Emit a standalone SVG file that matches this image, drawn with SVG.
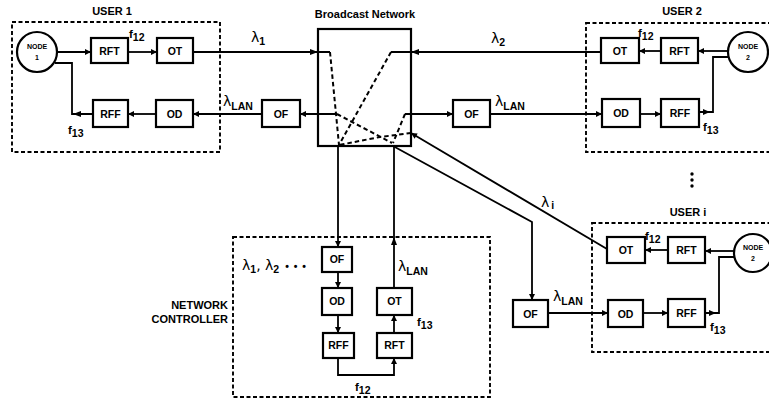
<svg xmlns="http://www.w3.org/2000/svg" width="769" height="410" viewBox="0 0 769 410">
<defs>
<style>
.bx{fill:#fff;stroke:#000;stroke-width:2.2}
.grp{fill:none;stroke:#000;stroke-width:1.9;stroke-dasharray:4 2.5}
.ln{fill:none;stroke:#000;stroke-width:1.8}
.dl{fill:none;stroke:#000;stroke-width:2;stroke-dasharray:4.5 3}
.t{font-family:"Liberation Sans",Arial,sans-serif;font-weight:bold;font-size:10.5px;fill:#000;text-anchor:middle}
.h{font-family:"Liberation Sans",Arial,sans-serif;font-weight:bold;font-size:11px;fill:#000}
.nd{font-family:"Liberation Sans",Arial,sans-serif;font-weight:bold;font-size:7px;fill:#000;text-anchor:middle}
.lam{font-family:"DejaVu Sans","Liberation Sans",sans-serif;font-size:14px;fill:#000}
.sub{font-family:"Liberation Sans",Arial,sans-serif;font-weight:bold;font-size:10.5px}
.f{font-family:"Liberation Sans",Arial,sans-serif;font-weight:bold;font-size:11.5px;fill:#000}
.ah{fill:#000}
</style>
<marker id="a" viewBox="0 0 10 10" refX="10" refY="5" markerWidth="7" markerHeight="6" markerUnits="userSpaceOnUse" orient="auto"><path d="M0,0 L10,5 L0,10 z" fill="#000"/></marker>
</defs>

<g id="user1">
<rect class="grp" x="12" y="22" width="208" height="130"/>
<text class="h" x="112" y="15" text-anchor="middle">USER 1</text>
</g>
<g id="user2">
<rect class="grp" x="586" y="23" width="200" height="129"/>
<text class="h" x="682" y="15" text-anchor="middle">USER 2</text>
</g>
<g id="useri">
<rect class="grp" x="592" y="223" width="200" height="129"/>
<text class="h" x="688" y="216" text-anchor="middle">USER i</text>
</g>
<g id="netctrl">
<rect class="grp" x="233" y="237" width="257" height="160"/>
<text class="h" x="228" y="309" text-anchor="end">NETWORK</text>
<text class="h" x="228" y="323" text-anchor="end">CONTROLLER</text>
</g>

<g id="connectors">
<line class="ln" x1="57" y1="52" x2="91" y2="52" marker-end="url(#a)"/>
<line class="ln" x1="128" y1="52" x2="157" y2="52" marker-end="url(#a)"/>
<line class="ln" x1="193" y1="52" x2="330" y2="52"/>
<polygon class="ah" points="318,52 310,49 310,55"/>
<line class="ln" x1="337" y1="114" x2="300" y2="114" marker-end="url(#a)"/>
<line class="ln" x1="262" y1="114" x2="193" y2="114" marker-end="url(#a)"/>
<line class="ln" x1="156" y1="114" x2="128" y2="114" marker-end="url(#a)"/>
<polyline class="ln" points="93,114 72,114 72,63 55,63"/>
<polygon class="ah" points="73,114 81,111 81,117"/>
<line class="ln" x1="601" y1="52" x2="391" y2="52"/>
<polygon class="ah" points="411,52 419,49 419,55"/>
<line class="ln" x1="729" y1="51" x2="698" y2="51" marker-end="url(#a)"/>
<line class="ln" x1="661" y1="51" x2="639" y2="51" marker-end="url(#a)"/>
<line class="ln" x1="405" y1="114" x2="453" y2="114" marker-end="url(#a)"/>
<line class="ln" x1="490" y1="114" x2="602" y2="114" marker-end="url(#a)"/>
<line class="ln" x1="640" y1="114" x2="661" y2="114" marker-end="url(#a)"/>
<polyline class="ln" points="699,112 713,112 713,57 730,57"/>
<polygon class="ah" points="710,112 703,109 703,115"/>
<line class="ln" x1="607" y1="249" x2="411" y2="133" marker-end="url(#a)"/>
<polyline class="ln" points="393,146 532,222 532,300" marker-end="url(#a)"/>
<line class="ln" x1="548" y1="313" x2="608" y2="313" marker-end="url(#a)"/>
<line class="ln" x1="643" y1="313" x2="668" y2="313" marker-end="url(#a)"/>
<line class="ln" x1="735" y1="251" x2="705" y2="251" marker-end="url(#a)"/>
<line class="ln" x1="668" y1="250" x2="645" y2="250" marker-end="url(#a)"/>
<polyline class="ln" points="705,313 719,313 719,257 736,257"/>
<polygon class="ah" points="716,313 709,310 709,316"/>
<line class="ln" x1="338" y1="146" x2="338" y2="247" marker-end="url(#a)"/>
<line class="ln" x1="338" y1="272" x2="338" y2="288" marker-end="url(#a)"/>
<line class="ln" x1="338" y1="315" x2="338" y2="333" marker-end="url(#a)"/>
<polyline class="ln" points="338,358 338,375 394,375 394,358" marker-end="url(#a)"/>
<line class="ln" x1="394" y1="333" x2="394" y2="315" marker-end="url(#a)"/>
<line class="ln" x1="394" y1="288" x2="394" y2="146"/>
<polygon class="ah" points="394,237 391,245 397,245"/>
<polyline class="dl" points="330,52 339,145"/>
<polyline class="dl" points="391,52 339,145"/>
<polyline class="dl" points="337,114 392,143"/>
<polyline class="dl" points="405,114 393,143"/>
<polyline class="dl" points="411,133 380,137 339,145"/>
</g>

<g id="broadcast">
<rect fill="none" stroke="#000" stroke-width="2.2" x="318" y="29" width="93" height="117"/>
<text class="h" x="365" y="18" text-anchor="middle">Broadcast Network</text>
</g>

<g id="node1"><circle class="bx" cx="37" cy="52" r="20"/><text class="nd" x="37" y="49">NODE</text><text class="nd" x="37" y="60">1</text></g>
<g id="u1-rft"><rect class="bx" x="91" y="38" width="37" height="25"/><text class="t" x="109.5" y="55">RFT</text></g>
<g id="u1-ot"><rect class="bx" x="157" y="38" width="36" height="25"/><text class="t" x="175" y="55">OT</text></g>
<g id="u1-rff"><rect class="bx" x="93" y="100" width="35" height="27"/><text class="t" x="110.5" y="118">RFF</text></g>
<g id="u1-od"><rect class="bx" x="156" y="100" width="37" height="27"/><text class="t" x="174.5" y="118">OD</text></g>
<g id="of-left"><rect class="bx" x="262" y="100" width="38" height="27"/><text class="t" x="281" y="118">OF</text></g>

<g id="u2-ot"><rect class="bx" x="601" y="38" width="38" height="25"/><text class="t" x="620" y="55">OT</text></g>
<g id="u2-rft"><rect class="bx" x="661" y="38" width="37" height="25"/><text class="t" x="679.5" y="55">RFT</text></g>
<g id="node2"><circle class="bx" cx="748" cy="52" r="20"/><text class="nd" x="748" y="49">NODE</text><text class="nd" x="748" y="60">2</text></g>
<g id="u2-od"><rect class="bx" x="602" y="99" width="38" height="28"/><text class="t" x="621" y="117">OD</text></g>
<g id="u2-rff"><rect class="bx" x="661" y="99" width="38" height="28"/><text class="t" x="680" y="117">RFF</text></g>
<g id="of-right"><rect class="bx" x="453" y="100" width="37" height="27"/><text class="t" x="471.5" y="118">OF</text></g>

<g id="ui-ot"><rect class="bx" x="607" y="237" width="38" height="26"/><text class="t" x="626" y="254">OT</text></g>
<g id="ui-rft"><rect class="bx" x="668" y="237" width="37" height="26"/><text class="t" x="686.5" y="254">RFT</text></g>
<g id="nodei"><circle class="bx" cx="753" cy="253" r="19"/><text class="nd" x="753" y="250">NODE</text><text class="nd" x="753" y="261">2</text></g>
<g id="ui-od"><rect class="bx" x="608" y="300" width="35" height="27"/><text class="t" x="625.5" y="318">OD</text></g>
<g id="ui-rff"><rect class="bx" x="668" y="299" width="37" height="28"/><text class="t" x="686.5" y="317">RFF</text></g>
<g id="of-i"><rect class="bx" x="513" y="300" width="35" height="27"/><text class="t" x="530.5" y="318">OF</text></g>

<g id="nc-of"><rect class="bx" x="322" y="247" width="30" height="25"/><text class="t" x="337" y="263">OF</text></g>
<g id="nc-od"><rect class="bx" x="322" y="288" width="30" height="27"/><text class="t" x="337" y="305">OD</text></g>
<g id="nc-rff"><rect class="bx" x="323" y="333" width="31" height="25"/><text class="t" x="338.5" y="349">RFF</text></g>
<g id="nc-ot"><rect class="bx" x="377" y="288" width="35" height="27"/><text class="t" x="394.5" y="305">OT</text></g>
<g id="nc-rft"><rect class="bx" x="377" y="333" width="35" height="25"/><text class="t" x="394.5" y="349">RFT</text></g>

<g id="labels">
<text class="lam" x="251" y="42">λ<tspan class="sub" dy="3">1</tspan></text>
<text class="lam" x="491" y="43">λ<tspan class="sub" dy="3">2</tspan></text>
<text class="lam" x="223" y="106">λ<tspan class="sub" dy="4">LAN</tspan></text>
<text class="lam" x="495" y="106">λ<tspan class="sub" dy="4">LAN</tspan></text>
<text class="lam" x="553" y="301">λ<tspan class="sub" dy="4">LAN</tspan></text>
<text class="lam" x="398" y="271">λ<tspan class="sub" dy="4">LAN</tspan></text>
<text class="lam" x="541" y="207">λ<tspan class="sub" dx="2" dy="2">i</tspan></text>
<text class="lam" x="242" y="270">λ<tspan class="sub" dy="3">1</tspan><tspan dy="-3">, λ</tspan><tspan class="sub" dy="3">2</tspan><tspan class="sub" dy="-3" dx="6" letter-spacing="1">• • •</tspan></text>
<text class="f" x="129" y="38">f<tspan dy="3" font-size="10.5">12</tspan></text>
<text class="f" x="68" y="134">f<tspan dy="3" font-size="10.5">13</tspan></text>
<text class="f" x="638" y="37">f<tspan dy="3" font-size="10.5">12</tspan></text>
<text class="f" x="703" y="131">f<tspan dy="3" font-size="10.5">13</tspan></text>
<text class="f" x="645" y="240">f<tspan dy="3" font-size="10.5">12</tspan></text>
<text class="f" x="710" y="331">f<tspan dy="3" font-size="10.5">13</tspan></text>
<text class="f" x="417" y="326">f<tspan dy="3" font-size="10.5">13</tspan></text>
<text class="f" x="355" y="391">f<tspan dy="3" font-size="10.5">12</tspan></text>
<circle cx="692" cy="174" r="1.7"/>
<circle cx="692" cy="180" r="1.7"/>
<circle cx="692" cy="186" r="1.7"/>
</g>
</svg>
